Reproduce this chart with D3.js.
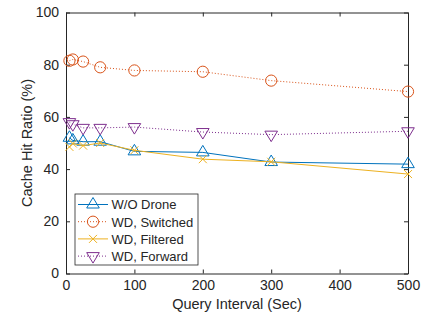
<!DOCTYPE html>
<html lang="en">
<head>
    <meta charset="UTF-8">
    <title>cache-hit-ratio</title>
    <script src="https://cdn.jsdelivr.net/npm/d3@7"></script>
    <style>
        body { margin: 0; background: #fff; }
        svg text { font-family: "Liberation Sans", Arial, sans-serif; fill: #262626; }
    </style>
</head>
<body>
<svg class="chart"></svg>
<script>
    var width = 423, height = 322;

    // data
    var intervals = [5, 10, 25, 50, 100, 200, 300, 500];
    var woDrone   = [52, 51, 50.5, 50.5, 46.8, 46.4, 42.7, 41.9];
    var switched  = [81.5, 82, 81.2, 79, 77.8, 77.3, 73.9, 69.7];
    var filtered  = [48.5, 49.8, 49, 50, 47.2, 43.8, 42.8, 38.1];
    var forward   = [58, 57.2, 55.8, 55.8, 56.1, 54.2, 53.2, 54.5];
    var xTicks = [0, 100, 200, 300, 400, 500];
    var yTicks = [0, 20, 40, 60, 80, 100];

    var series = [
        {name: 'W/O Drone',    values: woDrone,  color: '#0072BD', dash: null,  marker: 'up'},
        {name: 'WD, Switched', values: switched, color: '#D95319', dash: '1,2', marker: 'circle'},
        {name: 'WD, Filtered', values: filtered, color: '#EDB120', dash: null,  marker: 'x'},
        {name: 'WD, Forward',  values: forward,  color: '#7E2F8E', dash: '1,2', marker: 'down'}
    ];

    // plot box (window.top is reserved, so use other names)
    var plotLeft = 66, plotRight = 408, plotTop = 12.5, plotBottom = 273.5;

    var svg = d3.select('.chart').attr('width', width).attr('height', height);

    var x = d3.scaleLinear().domain([0, 500]).range([plotLeft, plotRight]);
    var y = d3.scaleLinear().domain([0, 100]).range([plotBottom, plotTop]);

    // axes with inward ticks (box style)
    var axisColor = '#262626';
    function styleAxis(g, showText) {
        g.select('.domain').attr('stroke', axisColor).attr('stroke-width', 1);
        g.selectAll('.tick line').attr('stroke', axisColor);
        g.selectAll('.tick text').style('font-size', '14px');
        if (!showText) g.selectAll('.tick text').remove();
    }

    svg.append('g').attr('transform', 'translate(0,' + plotBottom + ')')
        .call(d3.axisBottom(x).tickValues(xTicks).tickSizeInner(-4).tickSizeOuter(0).tickPadding(7))
        .call(styleAxis, true);
    svg.append('g').attr('transform', 'translate(0,' + plotTop + ')')
        .call(d3.axisTop(x).tickValues(xTicks).tickSizeInner(-4).tickSizeOuter(0))
        .call(styleAxis, false);
    svg.append('g').attr('transform', 'translate(' + plotLeft + ',0)')
        .call(d3.axisLeft(y).tickValues(yTicks).tickSizeInner(-4).tickSizeOuter(0).tickPadding(7))
        .call(styleAxis, true);
    svg.append('g').attr('transform', 'translate(' + plotRight + ',0)')
        .call(d3.axisRight(y).tickValues(yTicks).tickSizeInner(-4).tickSizeOuter(0))
        .call(styleAxis, false);

    // axis labels
    svg.append('text')
        .attr('x', (plotLeft + plotRight) / 2).attr('y', 309)
        .attr('text-anchor', 'middle')
        .style('font-size', '14.5px')
        .text('Query Interval (Sec)');
    svg.append('text')
        .attr('transform', 'translate(32,' + (plotTop + plotBottom) / 2 + ') rotate(-90)')
        .attr('text-anchor', 'middle')
        .style('font-size', '14.5px')
        .text('Cache Hit Ratio (%)');

    // marker drawing
    function drawMarker(g, type, color) {
        if (type === 'circle') {
            g.append('circle').attr('r', 5.6).attr('fill', 'none').attr('stroke', color);
        } else if (type === 'up') {
            g.append('path').attr('d', 'M0,-7L6.3,3.5L-6.3,3.5Z').attr('fill', 'none').attr('stroke', color);
        } else if (type === 'down') {
            g.append('path').attr('d', 'M0,7L6.3,-3.5L-6.3,-3.5Z').attr('fill', 'none').attr('stroke', color);
        } else if (type === 'x') {
            g.append('path').attr('d', 'M-4,-4L4,4M-4,4L4,-4').attr('fill', 'none').attr('stroke', color);
        }
    }

    var line = d3.line()
        .x(function (d) { return x(d[0]); })
        .y(function (d) { return y(d[1]); });

    series.forEach(function (s) {
        var pts = intervals.map(function (v, i) { return [v, s.values[i]]; });
        svg.append('path')
            .datum(pts)
            .attr('d', line)
            .attr('fill', 'none')
            .attr('stroke', s.color)
            .attr('stroke-width', 1)
            .attr('stroke-dasharray', s.dash);
        pts.forEach(function (p) {
            var g = svg.append('g').attr('transform', 'translate(' + x(p[0]) + ',' + y(p[1]) + ')');
            drawMarker(g, s.marker, s.color);
        });
    });

    // legend
    var legend = svg.append('g');
    legend.append('rect')
        .attr('x', 75).attr('y', 194).attr('width', 123).attr('height', 71)
        .attr('fill', '#fff').attr('stroke', axisColor).attr('stroke-width', 0.8);
    series.forEach(function (s, i) {
        var ly = 204.5 + i * 17.2;
        legend.append('line')
            .attr('x1', 78).attr('x2', 108).attr('y1', ly).attr('y2', ly)
            .attr('stroke', s.color).attr('stroke-dasharray', s.dash);
        var g = legend.append('g').attr('transform', 'translate(93,' + ly + ')');
        drawMarker(g, s.marker, s.color);
        legend.append('text')
            .attr('x', 111.5).attr('y', ly + 4.8)
            .style('font-size', '13px')
            .text(s.name);
    });
</script>
</body>
</html>
